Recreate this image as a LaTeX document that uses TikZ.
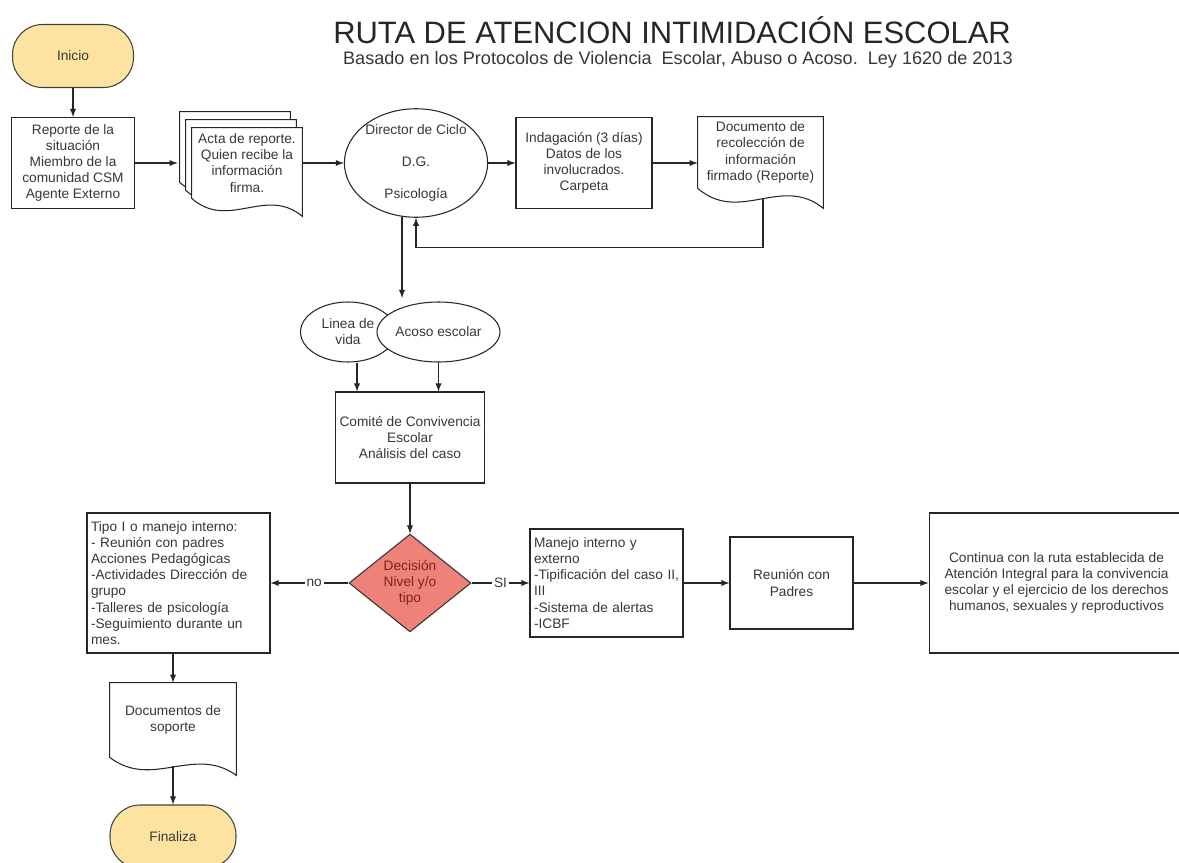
\documentclass[tikz,border=0pt]{standalone}
\usepackage{fontspec}
\setmainfont{Liberation Sans}
\usepackage{xcolor}
\usepackage{tikz}
\usetikzlibrary{shapes.geometric}
\usetikzlibrary{arrows,shapes}
\usetikzlibrary{calc,backgrounds}

\definecolor{inkgray}{RGB}{55,55,55}
\definecolor{startyellow}{RGB}{252,228,160}
\definecolor{decisionred}{RGB}{238,130,120}
\definecolor{decisiontext}{RGB}{125,35,35}

\newcommand{\bodyfont}{\fontsize{7.8}{9.2}\selectfont}

\tikzset{
  box/.style={rectangle, draw=black!85, semithick, fill=white, text=inkgray,
    align=center, inner sep=2pt, font=\bodyfont},
  listbox/.style={box, align=left, inner xsep=0.08cm},
  terminal/.style={rectangle, draw=black!75, semithick, fill=startyellow,
    rounded corners=0.6cm, text=inkgray, font=\bodyfont},
  bubble/.style={ellipse, draw=black!85, semithick, fill=white, inner sep=0pt,
    text=inkgray, align=center, font=\bodyfont},
  pagetext/.style={rectangle, inner sep=0pt, text=inkgray, align=center, font=\bodyfont},
  pageline/.style={draw=black!85, semithick, fill=white},
  decision/.style={diamond, draw=black!80, semithick, fill=decisionred, inner sep=0pt,
    text=decisiontext, align=center, font=\bodyfont},
  arr/.style={semithick, draw=black!85, -latex},
  answer/.style={fill=white, inner sep=1pt, text=inkgray, font=\bodyfont}
}

% page outline with a wavy foot: node, wave depth, offset
\newcommand{\pagewave}[3]{%
  \path[pageline] ($(#1.south west)+#3$) -- ($(#1.north west)+#3$)
    -- ($(#1.north east)+#3$) -- ($(#1.south east)+#3+(0,#2)$)
    .. controls ($(#1.south west)!.667!(#1.south east)+#3+(0,-0.7*#2)$)
           and ($(#1.south west)!.333!(#1.south east)+#3+(0,1.8*#2)$)
    .. ($(#1.south west)+#3$) -- cycle;
}

\begin{document}
\begin{tikzpicture}[x=0.02cm, y=-0.02cm]
\useasboundingbox (0,0) rectangle (1179,862);

% titles
\node[font=\fontsize{17.6}{20}\selectfont, text=black!85] (title) at (672,30)
  {RUTA DE ATENCION INTIMIDACIÓN ESCOLAR};
\node[font=\fontsize{10.3}{12}\selectfont, text=inkgray] (subtitle) at (678,60)
  {Basado en los Protocolos de Violencia\ \ Escolar, Abuso o Acoso.\ \ Ley 1620 de 2013};

% top row
\node[terminal, minimum width=2.42cm, minimum height=1.26cm] (inicio) at (73,56) {Inicio};

\node[box, minimum width=2.46cm, minimum height=1.82cm] (reporte) at (73,163)
  {Reporte de la\\situación\\Miembro de la\\comunidad CSM\\Agente Externo};
\draw[arr] (inicio) -- (reporte);

\node[pagetext, minimum width=2.2cm, minimum height=1.4cm] (acta) at (247,163)
  {Acta de reporte.\\Quien recibe la\\información\\firma.};
\draw[arr] (reporte.east) -- ($(acta.west)+(-14,0)$);

\node[bubble, minimum width=2.72cm, minimum height=2.16cm] (dir) at (416,163)
  {Director de Ciclo\\[9pt]D.G.\\[9pt]Psicología};
\draw[arr] (acta) -- (dir);

\node[box, minimum width=2.72cm, minimum height=1.82cm] (indag) at (584,163)
  {Indagación (3 días)\\Datos de los\\involucrados.\\Carpeta};
\draw[arr] (dir) -- (indag);

\node[pagetext, minimum width=2.5cm, minimum height=1.42cm] (docu) at (760.5,152.5)
  {Documento de\\recolección de\\información\\firmado (Reporte)};
\draw[arr] (indag.east) -- (indag.east -| docu.west);
\draw[arr] ($(docu.south)+(2.5,10)$) -- ++(0,49) -| (dir.south);

% type of case
\coordinate (split) at (402,298);
\draw[arr] ($(dir.south)+(-14,-1)$) -- (split);

\node[bubble, minimum width=1.9cm, minimum height=1.2cm] (linea) at (348,332) {Linea de\\vida};
\node[bubble, minimum width=2.46cm, minimum height=1.2cm] (acoso) at (438.5,332) {Acoso escolar};

\node[box, minimum width=2.98cm, minimum height=1.82cm] (comite) at (410,437.5)
  {Comité de Convivencia\\Escolar\\Análisis del caso};
\coordinate (lineafoot) at ($(linea.south)+(9,0)$);
\draw[arr] (lineafoot) -- (lineafoot |- comite.north);
\draw[arr] (acoso.south) -- (acoso.south |- comite.north);

\node[decision, minimum width=2.44cm, minimum height=1.8cm] (dec) at (410,583)
  {Decisión\\Nivel y/o\\tipo};
\draw[arr] (comite) -- (dec);

% branch no
\node[listbox, text width=3.5cm, minimum height=2.8cm] (tipo) at (178.5,583)
  {Tipo I o manejo interno:\\- Reunión con padres\\Acciones Pedagógicas\\-Actividades Dirección de\\grupo\\-Talleres de psicología\\-Seguimiento durante un\\mes.};
\draw[arr] (dec) -- (tipo) node[answer, pos=0.44] {no};

\node[pagetext, minimum width=2.52cm, minimum height=1.48cm] (soporte) at (173,720)
  {Documentos de\\soporte};
\draw[arr] (tipo.south -| soporte.north) -- (soporte.north);

\node[terminal, minimum width=2.52cm, minimum height=1.26cm] (fin) at (173,836.5) {Finaliza};
\draw[arr] ($(soporte.south)+(0,9)$) -- (fin);

% branch si
\node[listbox, text width=2.9cm, minimum height=2.16cm] (manejo) at (606.5,583)
  {Manejo interno y\\externo\\-Tipificación del caso II,\\III\\-Sistema de alertas\\-ICBF};
\draw[arr] (dec) -- (manejo) node[answer, pos=0.5] {SI};

\node[box, minimum width=2.46cm, minimum height=1.84cm] (reunion) at (791.5,583)
  {Reunión con\\Padres};
\draw[arr] (manejo) -- (reunion);

\node[box, minimum width=5.1cm, minimum height=2.8cm] (cont) at (1056.5,583)
  {Continua con la ruta establecida de\\Atención Integral para la convivencia\\escolar y el ejercicio de los derechos\\humanos, sexuales y reproductivos};
\draw[arr] (reunion) -- (cont);

% page outlines
\begin{scope}[on background layer]
\pagewave{acta}{18}{(-12,-16)}
\pagewave{acta}{18}{(-6,-8)}
\pagewave{acta}{18}{(0,0)}
\pagewave{docu}{20}{(0,0)}
\pagewave{soporte}{18}{(0,0)}
\end{scope}

\end{tikzpicture}
\end{document}
